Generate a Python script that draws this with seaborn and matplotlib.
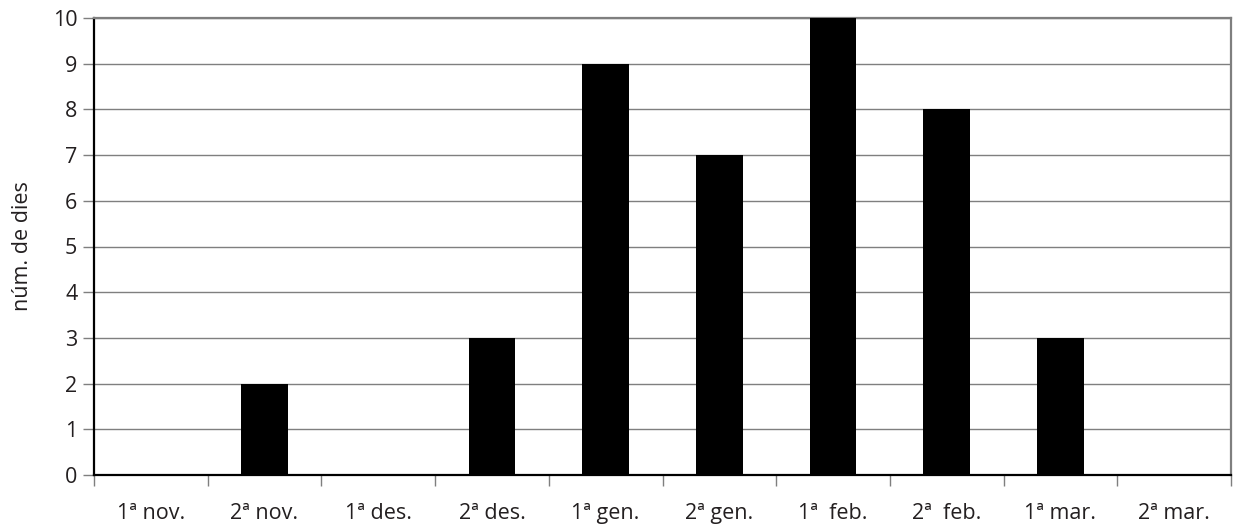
import matplotlib
matplotlib.use("Agg")
import matplotlib.pyplot as plt
from matplotlib.ticker import FixedLocator
import seaborn as sns
import pandas as pd

periods = ["1ª nov.", "2ª nov.", "1ª des.", "2ª des.", "1ª gen.",
           "2ª gen.", "1ª  feb.", "2ª  feb.", "1ª mar.", "2ª mar."]
days = [0, 2, 0, 3, 9, 7, 10, 8, 3, 0]
y_ticks = list(range(0, 11))

df = pd.DataFrame({"periode": periods, "dies": days})

sns.set_theme(style="white")
plt.rcParams["font.family"] = ["Open Sans", "DejaVu Sans"]

fig = plt.figure(figsize=(12.33, 5.30), dpi=100)
ax = fig.add_axes([94 / 1233, 1 - 475 / 530, (1231 - 94) / 1233, (475 - 18) / 530])

sns.barplot(data=df, x="periode", y="dies", color="black", width=0.41,
            saturation=1, linewidth=0, edgecolor="none", ax=ax, zorder=3)

ax.set_xlim(-0.5, len(periods) - 0.5)
ax.set_ylim(0, 10)
ax.set_yticks(y_ticks)
ax.yaxis.grid(True, color="#7f7f7f", linewidth=1.0, zorder=0)
ax.set_axisbelow(True)

# category boundaries carry the tick marks; labels sit between them
ax.xaxis.set_minor_locator(FixedLocator([i - 0.5 for i in range(len(periods) + 1)]))
ax.tick_params(axis="x", which="major", length=0, pad=20, labelsize=15.5, colors="#231f20")
ax.tick_params(axis="x", which="minor", bottom=True, length=8, width=1, color="#7f7f7f")
ax.tick_params(axis="y", left=True, length=8, width=1, color="#7f7f7f",
               labelsize=15.5, labelcolor="#231f20", pad=4)

ax.set_xlabel("")
ax.set_ylabel("núm. de dies", fontsize=15.5, color="#231f20", labelpad=14)

for side in ("left", "bottom"):
    ax.spines[side].set_color("black")
    ax.spines[side].set_linewidth(1.6)
for side in ("top", "right"):
    ax.spines[side].set_color("#7f7f7f")
    ax.spines[side].set_linewidth(1.6)
    ax.spines[side].set_visible(True)

fig.savefig("out.png", dpi=100)
